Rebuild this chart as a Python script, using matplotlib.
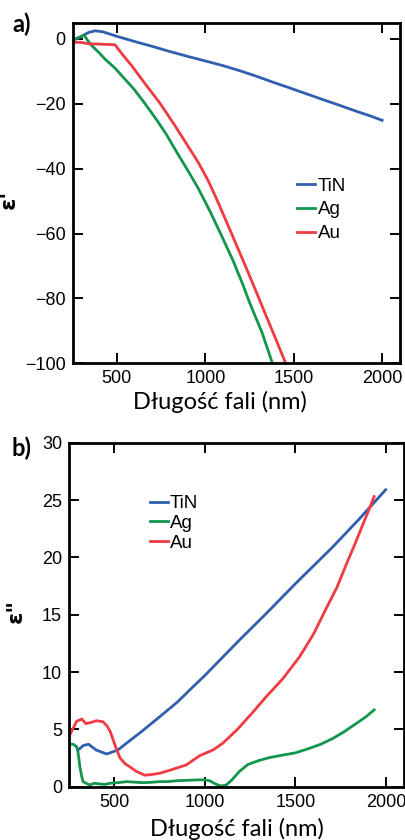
import matplotlib
matplotlib.use("Agg")
import matplotlib.pyplot as plt

# ---- data: panel a) real part eps' ----
tin_a_nm = [250, 300, 340, 376, 420, 500, 600, 700, 800, 912, 1000, 1100, 1200, 1288, 1380, 1476,
            1570, 1664, 1760, 1853, 1930, 1999]
tin_a_val = [-0.4, 0.8, 2.0, 2.5, 2.2, 0.8, -0.8, -2.3, -3.9, -5.56, -6.8, -8.24, -9.9, -11.5, -13.3, -15.1,
             -16.9, -18.7, -20.5, -22.3, -23.7, -25.1]

ag_a_nm = [250, 280, 315, 335, 360, 400, 432, 489, 530, 592, 650, 724, 780, 837, 900, 959, 1025, 1090,
           1156, 1210, 1250, 1320, 1379]
ag_a_val = [-0.4, 0.3, 1.1, -0.5, -2.2, -4.3, -6.2, -9.0, -11.5, -15.2, -19.3, -24.9, -29.5, -34.8, -40.5,
            -46.0, -53.0, -60.5, -68.3, -75.5, -81.3, -90.5, -100.0]

au_a_nm = [250, 300, 340, 400, 489, 520, 555, 583, 630, 677, 743, 780, 830, 893, 959, 1015, 1063, 1140,
           1213, 1280, 1345, 1400, 1454]
au_a_val = [-1.0, -1.1, -1.5, -1.6, -1.8, -4.0, -6.4, -8.2, -11.7, -15.1, -19.8, -22.8, -26.9, -32.3, -38.0,
            -43.6, -49.3, -59.0, -68.3, -77.0, -85.6, -92.8, -100.0]

# ---- data: panel b) imaginary part eps'' ----
tin_b_nm = [300, 330, 358, 400, 458, 520, 568, 650, 751, 850, 934, 1000, 1192, 1339, 1500, 1706, 1850, 1999]
tin_b_val = [3.2, 3.6, 3.7, 3.2, 2.85, 3.2, 3.8, 4.8, 6.1, 7.4, 8.7, 9.7, 12.8, 15.1, 17.7, 20.9, 23.3, 25.9]

au_b_nm = [250, 270, 292, 320, 343, 370, 401, 437, 460, 478, 500, 514, 532, 560, 586, 620, 668, 700,
           751, 820, 898, 971, 1045, 1100, 1180, 1260, 1339, 1430, 1522, 1600, 1669, 1730, 1779,
           1830, 1871, 1905, 1935]
au_b_val = [4.4, 5.0, 5.7, 5.9, 5.5, 5.6, 5.75, 5.67, 5.3, 4.8, 3.8, 3.2, 2.5, 2.0, 1.74, 1.35, 1.0, 1.05,
            1.17, 1.5, 1.9, 2.7, 3.2, 3.8, 5.0, 6.4, 7.85, 9.4, 11.3, 13.3, 15.5, 17.4, 19.3,
            21.2, 22.8, 24.1, 25.3]

ag_b_nm = [250, 273, 292, 300, 310, 320, 328, 345, 364, 390, 419, 450, 476, 520, 568, 610, 659, 700,
           751, 800, 843, 890, 934, 975, 1008, 1030, 1045, 1065, 1081, 1100, 1118, 1150, 1192, 1240,
           1302, 1360, 1431, 1500, 1578, 1640, 1706, 1770, 1835, 1890, 1935]
ag_b_val = [3.7, 3.7, 3.5, 3.0, 1.75, 0.9, 0.44, 0.3, 0.15, 0.3, 0.24, 0.2, 0.3, 0.35, 0.44, 0.4, 0.35, 0.38,
            0.44, 0.45, 0.52, 0.55, 0.58, 0.6, 0.58, 0.5, 0.35, 0.2, 0.09, 0.08, 0.15, 0.6, 1.35, 1.95,
            2.3, 2.55, 2.76, 2.95, 3.35, 3.7, 4.2, 4.8, 5.5, 6.1, 6.7]

labels = ["TiN", "Ag", "Au"]
xticks = [500, 1000, 1500, 2000]
yticks_a = [0, -20, -40, -60, -80, -100]
yticks_b = [0, 5, 10, 15, 20, 25, 30]

C_BLUE = "#2f5fae"
C_GREEN = "#13954d"
C_RED = "#ef3b41"

W, H = 406, 840
fig = plt.figure(figsize=(W / 100, H / 100), dpi=100)

lab_font = ["Lato", "DejaVu Sans"]


def style(ax):
    for s in ax.spines.values():
        s.set_linewidth(2.0)
    ax.tick_params(direction="in", top=True, right=True, length=7, width=1.4,
                   pad=5, labelsize=13, colors="black")
    for lab in ax.get_xticklabels() + ax.get_yticklabels():
        lab.set_family(["Liberation Sans", "DejaVu Sans"])


# ---- panel a ----
axa = fig.add_axes([72.7 / W, 1 - 363.3 / H, (400 - 72.7) / W, (363.3 - 22.7) / H])
axa.plot(tin_a_nm, tin_a_val, color=C_BLUE, lw=2, label=labels[0])
axa.plot(ag_a_nm, ag_a_val, color=C_GREEN, lw=2, label=labels[1])
axa.plot(au_a_nm, au_a_val, color=C_RED, lw=2, label=labels[2])
axa.set_xlim(250, 2100)
axa.set_ylim(-100, 5)
axa.set_xticks(xticks)
axa.set_yticks(yticks_a)
style(axa)
axa.set_xlabel("Długość fali (nm)", family=lab_font, fontsize=17)
axa.xaxis.set_label_coords(0.45, -0.082)
axa.set_ylabel("ε'", fontweight="bold", fontsize=16, family=["DejaVu Sans"])
axa.yaxis.set_label_coords(-0.165, 0.48)
axa.legend(loc="upper left", bbox_to_anchor=(0.685, 0.545), frameon=False,
           handlelength=0.95, handletextpad=0.15, labelspacing=0.35,
           borderpad=0, borderaxespad=0,
           prop={"family": ["Liberation Sans"], "size": 13.5})
fig.text(12 / W, 1 - 24 / H, "a)", fontsize=17, fontweight="bold",
         family=lab_font, va="center", ha="left")

# ---- panel b ----
axb = fig.add_axes([69 / W, 1 - 786.7 / H, (404 - 69) / W, (786.7 - 442.7) / H])
axb.plot(tin_b_nm, tin_b_val, color=C_BLUE, lw=2, label=labels[0])
axb.plot(ag_b_nm, ag_b_val, color=C_GREEN, lw=2, label=labels[1])
axb.plot(au_b_nm, au_b_val, color=C_RED, lw=2, label=labels[2])
axb.set_xlim(250, 2100)
axb.set_ylim(0, 30)
axb.set_xticks(xticks)
axb.set_yticks(yticks_b)
style(axb)
axb.set_xlabel("Długość fali (nm)", family=lab_font, fontsize=17)
axb.xaxis.set_label_coords(0.5, -0.092)
axb.set_ylabel('ε"', fontweight="bold", fontsize=16, family=["DejaVu Sans"])
axb.yaxis.set_label_coords(-0.13, 0.51)
axb.legend(loc="upper left", bbox_to_anchor=(0.242, 0.848), frameon=False,
           handlelength=0.95, handletextpad=0.1, labelspacing=0.15,
           borderpad=0, borderaxespad=0,
           prop={"family": ["Liberation Sans"], "size": 13.5})
fig.text(12 / W, 1 - 448 / H, "b)", fontsize=17, fontweight="bold",
         family=lab_font, va="center", ha="left")

fig.savefig("out.png", dpi=100)
